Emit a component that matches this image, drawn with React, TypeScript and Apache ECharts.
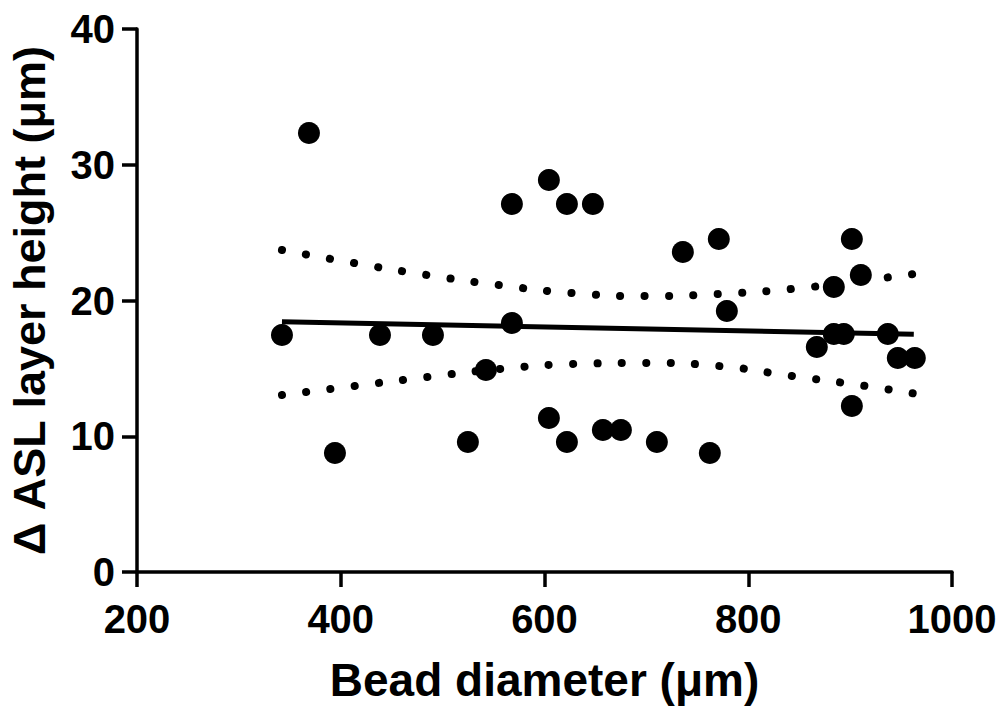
import { useEffect, useRef } from "react";
import * as echarts from "echarts";

const xTicks = [200, 400, 600, 800, 1000];
const yTicks = [0, 10, 20, 30, 40];
const beadDiameter = [342.3, 368.8, 394.3, 438.5, 490.5, 524.8, 542.5, 568, 568, 604.3, 604.3, 622, 622, 647.5, 657.3, 675, 710.3, 735.8, 762.3, 771.1, 779, 867.3, 884, 884, 893.8, 901.7, 901.7, 910.5, 937, 946.8, 963.5];
const aslHeight = [17.46, 32.34, 8.77, 17.46, 17.46, 9.58, 14.88, 27.11, 18.34, 28.88, 11.34, 27.11, 9.58, 27.11, 10.46, 10.46, 9.58, 23.57, 8.77, 24.53, 19.23, 16.57, 21.0, 17.53, 17.53, 24.53, 12.23, 21.88, 17.53, 15.76, 15.76];
const fitX = [342.3, 962.5];
const fitY = [18.44, 17.51];
const bandX = [342.3, 413, 484.6, 555.3, 626.9, 699.5, 771.2, 842.8, 915.4, 962.5];
const upperBand = [23.72, 22.76, 21.88, 21.14, 20.55, 20.33, 20.48, 20.85, 21.5, 21.95];
const lowerBand = [13.04, 13.7, 14.36, 14.95, 15.32, 15.4, 15.17, 14.44, 13.7, 13.15];

const FONT = "'Liberation Sans', Arial, Helvetica, sans-serif";

export default function App() {
  const ref = useRef<HTMLDivElement>(null);
  useEffect(() => {
    if (!ref.current) return;
    const chart = echarts.init(ref.current, undefined, { renderer: "svg" });
    const zip = (xs: number[], ys: number[]) => xs.map((x, i) => [x, ys[i]]);
    const dotted = {
      type: [0.1, 24.3] as number[],
      width: 8,
      cap: "round" as const,
      color: "#000",
      opacity: 1,
    };
    chart.setOption({
      animation: false,
      backgroundColor: "#fff",
      grid: { left: 137, right: 49, top: 29, bottom: 139, containLabel: false, outerBoundsMode: "none" },
      xAxis: {
        type: "value",
        min: xTicks[0],
        max: xTicks[xTicks.length - 1],
        interval: 200,
        name: "Bead diameter (μm)",
        nameLocation: "middle",
        nameGap: 85,
        nameTextStyle: { fontFamily: FONT, fontWeight: "bold", fontSize: 46, color: "#000" },
        axisLine: { show: true, onZero: false, lineStyle: { color: "#000", width: 3.5 } },
        axisTick: { show: true, length: 15, lineStyle: { color: "#000", width: 3.5 } },
        axisLabel: {
          margin: 27,
          fontFamily: FONT,
          fontWeight: "bold",
          fontSize: 40,
          color: "#000",
          formatter: (v: number) => String(v),
        },
        splitLine: { show: false },
      },
      yAxis: {
        type: "value",
        min: yTicks[0],
        max: yTicks[yTicks.length - 1],
        interval: 10,
        name: "Δ ASL layer height (μm)",
        nameLocation: "middle",
        nameGap: 85,
        nameTextStyle: { fontFamily: FONT, fontWeight: "bold", fontSize: 45, color: "#000" },
        axisLine: { show: true, onZero: false, lineStyle: { color: "#000", width: 3.5 } },
        axisTick: { show: true, length: 15, lineStyle: { color: "#000", width: 3.5 } },
        axisLabel: {
          margin: 22,
          fontFamily: FONT,
          fontWeight: "bold",
          fontSize: 40,
          color: "#000",
          formatter: (v: number) => String(v),
        },
        splitLine: { show: false },
      },
      series: [
        {
          type: "line",
          data: zip(bandX, upperBand),
          smooth: true,
          symbol: "none",
          lineStyle: dotted,
          silent: true,
        },
        {
          type: "line",
          data: zip(bandX, lowerBand),
          smooth: true,
          symbol: "none",
          lineStyle: dotted,
          silent: true,
        },
        {
          type: "line",
          data: zip(fitX, fitY),
          symbol: "none",
          lineStyle: { color: "#000", width: 5, opacity: 1 },
          silent: true,
        },
        {
          type: "scatter",
          data: zip(beadDiameter, aslHeight),
          symbol: "circle",
          symbolSize: 22,
          itemStyle: { color: "#000", opacity: 1 },
        },
      ],
    });
    return () => chart.dispose();
  }, []);
  return (
    <div
      ref={ref}
      style={{ position: "fixed", left: 0, top: 0, width: 1001, height: 711 }}
    />
  );
}
